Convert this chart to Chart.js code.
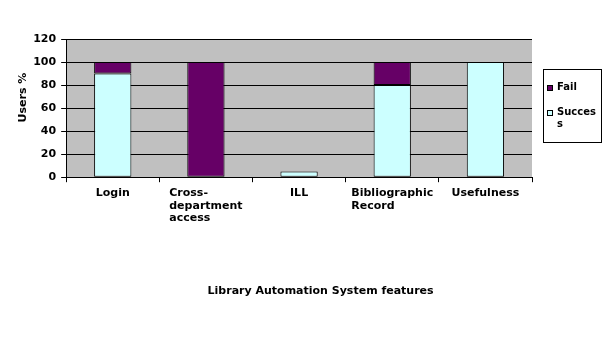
<!DOCTYPE html>
<html>
<head>
<meta charset="utf-8">
<script src="https://cdn.jsdelivr.net/npm/chart.js@4"></script>
<style>
  html, body { margin: 0; padding: 0; background: #ffffff; }
  #wrap { width: 605px; height: 340px; }
</style>
</head>
<body>
<div id="wrap"><canvas id="c" width="605" height="340"></canvas></div>
<script>
// Feature categories (each entry is the list of label lines)
const categories = [
  ["Login"],
  ["Cross-", "department", "access"],
  ["ILL"],
  ["Bibliographic", "Record"],
  ["Usefulness"]
];
// Percentage of users per outcome
const successValues = [90, 0, 5, 80, 100];
const failValues = [10, 100, 0, 20, 0];
const yTicks = [0, 20, 40, 60, 80, 100, 120];
const xTitle = "Library Automation System features";
const yTitle = "Users %";

const FONT = '"DejaVu Sans", Verdana, sans-serif';
const BOLD11 = "bold 11px " + FONT;
const SUCCESS_COLOR = "#CCFFFF";
const FAIL_COLOR = "#660066";

// Grey plot background
const plotBackground = {
  id: "plotBackground",
  beforeDraw(chart) {
    const { ctx, chartArea: a } = chart;
    ctx.save();
    ctx.fillStyle = "#C0C0C0";
    ctx.fillRect(a.left, a.top, a.right - a.left, a.bottom - a.top);
    ctx.restore();
  }
};

// Category labels: multi-line blocks, lines left-aligned, block centred on the category
const categoryLabels = {
  id: "categoryLabels",
  afterDraw(chart) {
    const { ctx } = chart;
    const xs = chart.scales.x;
    ctx.save();
    ctx.font = BOLD11;
    ctx.fillStyle = "#000";
    ctx.textAlign = "left";
    ctx.textBaseline = "middle";
    categories.forEach((lines, i) => {
      const cx = xs.getPixelForTick(i);
      const w = Math.max(...lines.map(l => ctx.measureText(l).width));
      lines.forEach((line, j) => {
        ctx.fillText(line, cx - w / 2, xs.top + 16 + j * 12.5);
      });
    });
    ctx.restore();
  }
};

// Axis titles, placed relative to the plot area
const axisTitles = {
  id: "axisTitles",
  afterDraw(chart) {
    const { ctx, chartArea: a } = chart;
    ctx.save();
    ctx.font = BOLD11;
    ctx.fillStyle = "#000";
    ctx.textAlign = "center";
    ctx.textBaseline = "middle";
    ctx.fillText(xTitle, (a.left + a.right) / 2 + 21.5, a.bottom + 114);
    ctx.translate(a.left - 43.5, (a.top + a.bottom) / 2 - 10.5);
    ctx.rotate(-Math.PI / 2);
    ctx.fillText(yTitle, 0, 0);
    ctx.restore();
  }
};

// Boxed legend on the right, listed top-down in stack order (top series first)
const boxLegend = {
  id: "boxLegend",
  afterDraw(chart) {
    const { ctx, chartArea: a } = chart;
    const left = a.right + 11, top = a.top + 30, w = 58, h = 73;
    const textX = left + 14;
    const maxText = left + w - 2 - textX;
    ctx.save();
    ctx.fillStyle = "#fff";
    ctx.fillRect(left, top, w, h);
    ctx.strokeStyle = "#000";
    ctx.lineWidth = 1;
    ctx.strokeRect(left + 0.5, top + 0.5, w, h);
    ctx.font = "bold 10px " + FONT;
    ctx.textBaseline = "middle";
    ctx.textAlign = "left";
    const items = chart.data.datasets.slice().reverse();
    let y = top + 18;
    items.forEach(ds => {
      ctx.fillStyle = ds.backgroundColor;
      ctx.fillRect(left + 4.5, y - 1.5, 5, 5);
      ctx.strokeStyle = "#000";
      ctx.strokeRect(left + 4.5, y - 1.5, 5, 5);
      // wrap the label to the box width
      const lines = [];
      let cur = "";
      for (const ch of ds.label) {
        if (ctx.measureText(cur + ch).width > maxText && cur) { lines.push(cur); cur = ch; }
        else cur += ch;
      }
      lines.push(cur);
      ctx.fillStyle = "#000";
      lines.forEach((l, j) => ctx.fillText(l, textX, y + j * 12));
      y += 25;
    });
    ctx.restore();
  }
};

new Chart(document.getElementById("c"), {
  type: "bar",
  data: {
    labels: categories,
    datasets: [
      {
        label: "Success",
        data: successValues,
        backgroundColor: SUCCESS_COLOR,
        borderColor: "#000",
        borderWidth: 1,
        borderSkipped: false,
        barPercentage: 0.4,
        categoryPercentage: 1.0
      },
      {
        label: "Fail",
        data: failValues,
        backgroundColor: FAIL_COLOR,
        borderColor: "#000",
        borderWidth: 1,
        borderSkipped: false,
        barPercentage: 0.4,
        categoryPercentage: 1.0
      }
    ]
  },
  options: {
    responsive: false,
    animation: false,
    devicePixelRatio: 1,
    layout: { padding: { top: 39, right: 73, bottom: 43, left: 11 } },
    plugins: {
      legend: { display: false },
      tooltip: { enabled: false },
      title: { display: false }
    },
    scales: {
      x: {
        stacked: true,
        grid: {
          offset: true,
          drawOnChartArea: false,
          drawTicks: true,
          tickLength: 5,
          color: "#000"
        },
        border: { color: "#000", width: 1 },
        ticks: {
          color: "rgba(0,0,0,0)",
          font: { family: FONT, size: 11, weight: "bold" },
          maxRotation: 0,
          autoSkip: false,
          padding: 4
        },
        title: {
          display: true,
          text: xTitle,
          color: "rgba(0,0,0,0)",
          font: { family: FONT, size: 11, weight: "bold" },
          padding: { top: 54, bottom: 0 }
        }
      },
      y: {
        stacked: true,
        min: 0,
        max: 120,
        afterBuildTicks(scale) { scale.ticks = yTicks.map(v => ({ value: v })); },
        grid: {
          color: "#000",
          lineWidth: 1,
          drawTicks: true,
          tickLength: 5
        },
        border: { color: "#000", width: 1 },
        ticks: {
          color: "#000",
          font: { family: FONT, size: 11, weight: "bold" },
          padding: 5
        },
        title: {
          display: true,
          text: yTitle,
          color: "rgba(0,0,0,0)",
          font: { family: FONT, size: 11, weight: "bold" },
          padding: { top: 0, bottom: 4 }
        }
      }
    }
  },
  plugins: [plotBackground, categoryLabels, axisTitles, boxLegend]
});
</script>
</body>
</html>
